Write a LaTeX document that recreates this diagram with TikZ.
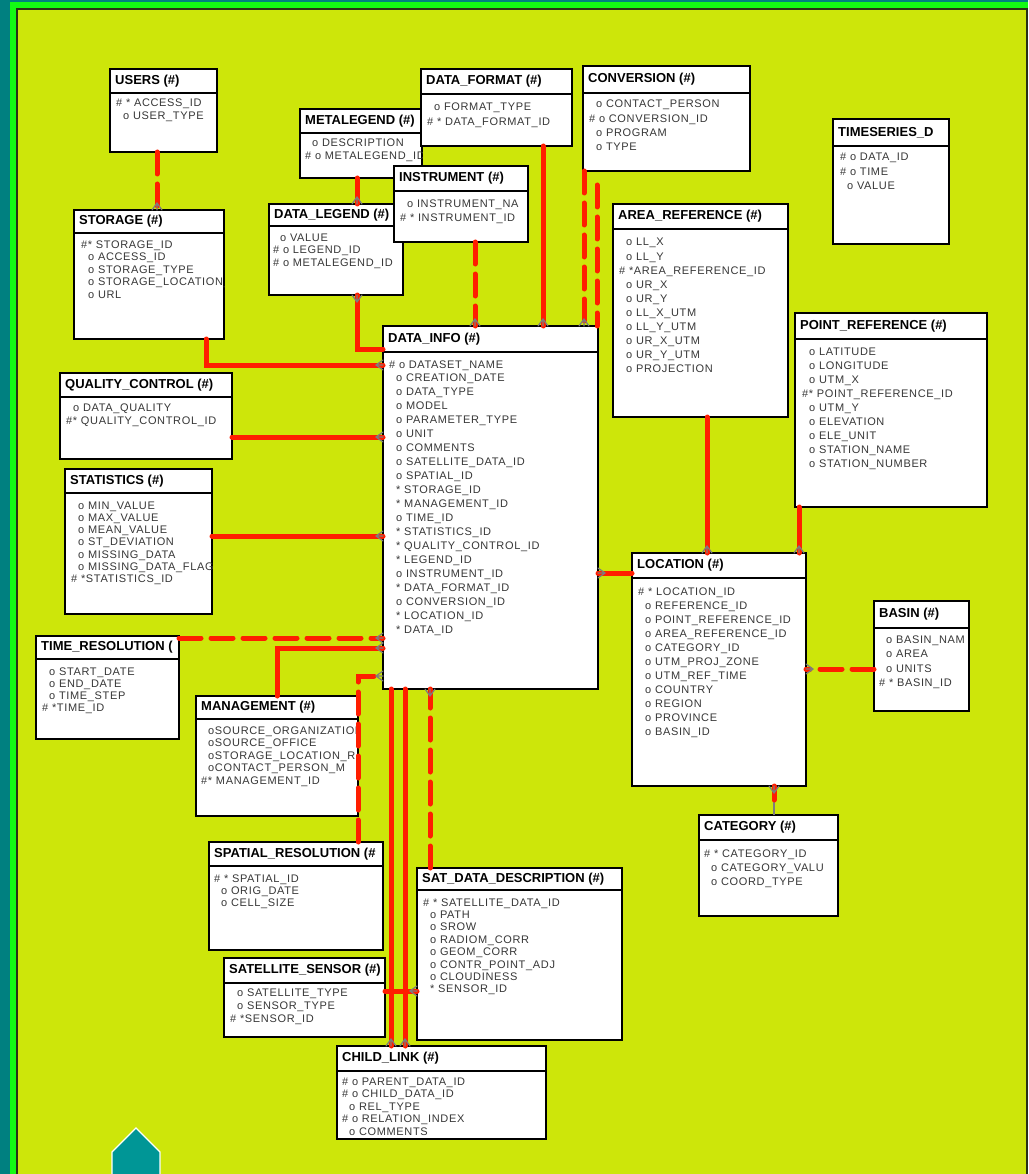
\documentclass[tikz,border=0pt]{standalone}
\usepackage{fontspec}
\setmainfont{Liberation Sans}
\newfontfamily\attrfam{Liberation Sans}[LetterSpace=6]
\usetikzlibrary{decorations.markings}
\definecolor{bgy}{RGB}{205,230,10}
\definecolor{bgr}{RGB}{20,250,20}
\definecolor{tealA}{RGB}{0,128,128}
\definecolor{tealB}{RGB}{0,150,150}
\definecolor{relred}{RGB}{255,30,0}
\definecolor{tipgray}{RGB}{125,125,125}
\definecolor{attrgray}{RGB}{55,55,55}
\definecolor{darkln}{RGB}{40,50,20}
\newcommand\attind{\hspace*{7pt}}
\tikzset{
 ebox/.style={draw=black, fill=white, line width=1.5pt, anchor=north west, inner sep=0pt, outer sep=0pt},
 hdr/.style={draw=black, line width=1.5pt},
 etitle/.style={anchor=west, inner sep=0pt, font=\fontsize{13}{16}\selectfont\bfseries, text=black},
 eattr/.style={anchor=base west, inner sep=0pt, font=\attrfam\fontsize{11}{12}\selectfont, text=attrgray},
 rel/.style={draw=relred, line width=5pt, line cap=round},
 dsh/.style={dash pattern=on 22pt off 10pt},
 cfe/.style={postaction={decorate, decoration={markings, mark=at position 1 with {\draw[tipgray, solid, line width=1.2pt, line cap=round] (0pt,5pt) -- (-7pt,0pt) -- (0pt,-5pt) (-7pt,0pt) -- (0pt,0pt);}}}},
 cfs/.style={postaction={decorate, decoration={markings, mark=at position 0 with {\draw[tipgray, solid, line width=1.2pt, line cap=round] (0pt,5pt) -- (7pt,0pt) -- (0pt,-5pt) (7pt,0pt) -- (0pt,0pt);}}}},
 thinrel/.style={draw=tipgray, line width=1.2pt},
}
% name, x, y, w, h, header height, title
\newcommand\erbox[7]{%
  \node[ebox, minimum width=#4, minimum height=#5] (#1) at (#2,#3) {};
  \begin{scope}
    \clip (#2,#3) rectangle ++(#4,#6);
    \node[etitle] (#1-t) at ({#2+5},{#3+#6/2}) {#7};
  \end{scope}
  \draw[hdr] (#2,#3+#6) -- ++(#4,0);
}
% name, x, first baseline, line step, list
\newcommand\erattr[5]{%
  \begin{scope}
    \clip (#1.north west) rectangle (#1.south east);
    \foreach \t [count=\i] in {#5} \node[eattr] (#1-\i) at ({#2},{#3+(\i-1)*#4}) {\t};
  \end{scope}
}
\begin{document}
\begin{tikzpicture}[x=1pt,y=-1pt]
\useasboundingbox (0,0) rectangle (1028,1174);
% frame
\fill[tealA] (0,0) rectangle (1028,1174);
\fill[bgr] (10,2) rectangle (1028,1174);
\fill[bgy] (17,9) rectangle (1027,1174);
\draw[darkln, line width=1.5pt] (17,1174) -- (17,9) -- (1027,9) -- (1027,1174);
\filldraw[fill=tealB, draw=white, line width=1.2pt] (112,1177) -- (112,1152) -- (136,1128) -- (160,1152) -- (160,1177);

% entities
\erbox{USR}{110}{69}{107}{83}{24}{USERS (\#)}
\erattr{USR}{116}{107}{12.5}{\# * ACCESS\_ID, \attind o USER\_TYPE}

\erbox{STO}{74}{210}{150}{129}{23}{STORAGE (\#)}
\erattr{STO}{81}{248}{12.5}{\#* STORAGE\_ID, \attind o ACCESS\_ID, \attind o STORAGE\_TYPE, \attind o STORAGE\_LOCATION\_L, \attind o URL}

\erbox{MTL}{300}{109}{122}{69}{24}{METALEGEND (\#)}
\erattr{MTL}{305}{147}{13}{\attind o DESCRIPTION, \# o METALEGEND\_ID}

\erbox{DLG}{269}{204}{134}{91}{22}{DATA\_LEGEND (\#)}
\erattr{DLG}{273}{242}{12}{\attind o VALUE, \# o LEGEND\_ID, \# o METALEGEND\_ID}

\erbox{INS}{394}{166}{134}{76}{25}{INSTRUMENT (\#)}
\erattr{INS}{400}{208}{14}{\attind o INSTRUMENT\_NA, \# * INSTRUMENT\_ID}

\erbox{DFM}{421}{69}{151}{77}{25}{DATA\_FORMAT (\#)}
\erattr{DFM}{427}{111}{15}{\attind o FORMAT\_TYPE, \# * DATA\_FORMAT\_ID}

\erbox{CNV}{583}{66}{167}{105}{27}{CONVERSION (\#)}
\erattr{CNV}{589}{108}{14.3}{\attind o CONTACT\_PERSON, \# o CONVERSION\_ID, \attind o PROGRAM, \attind o TYPE}

\erbox{TSD}{833}{119}{116}{125}{27}{TIMESERIES\_D}
\erattr{TSD}{840}{161}{14.5}{\# o DATA\_ID, \# o TIME, \attind o VALUE}

\erbox{ARF}{613}{204}{175}{213}{25}{AREA\_REFERENCE (\#)}
\erattr{ARF}{619}{246}{14}{\attind o LL\_X, \attind o LL\_Y, \# *AREA\_REFERENCE\_ID, \attind o UR\_X, \attind o UR\_Y, \attind o LL\_X\_UTM, \attind o LL\_Y\_UTM, \attind o UR\_X\_UTM, \attind o UR\_Y\_UTM, \attind o PROJECTION}

\erbox{PRF}{795}{313}{192}{194}{26}{POINT\_REFERENCE (\#)}
\erattr{PRF}{802}{355}{14}{\attind o LATITUDE, \attind o LONGITUDE, \attind o UTM\_X, \#* POINT\_REFERENCE\_ID, \attind o UTM\_Y, \attind o ELEVATION, \attind o ELE\_UNIT, \attind o STATION\_NAME, \attind o STATION\_NUMBER}

\erbox{DI}{383}{326}{215}{363}{26}{DATA\_INFO (\#)}
\erattr{DI}{389}{368}{13.95}{\# o DATASET\_NAME, \attind o CREATION\_DATE, \attind o DATA\_TYPE, \attind o MODEL, \attind o PARAMETER\_TYPE, \attind o UNIT, \attind o COMMENTS, \attind o SATELLITE\_DATA\_ID, \attind o SPATIAL\_ID, \attind * STORAGE\_ID, \attind * MANAGEMENT\_ID, \attind o TIME\_ID, \attind * STATISTICS\_ID, \attind * QUALITY\_CONTROL\_ID, \attind * LEGEND\_ID, \attind o INSTRUMENT\_ID, \attind * DATA\_FORMAT\_ID, \attind o CONVERSION\_ID, \attind * LOCATION\_ID, \attind * DATA\_ID}

\erbox{QC}{60}{373}{172}{86}{24}{QUALITY\_CONTROL (\#)}
\erattr{QC}{66}{411}{13}{\attind o DATA\_QUALITY, \#* QUALITY\_CONTROL\_ID}

\erbox{STA}{65}{469}{147}{145}{24}{STATISTICS (\#)}
\erattr{STA}{71}{509}{12.3}{\attind o MIN\_VALUE, \attind o MAX\_VALUE, \attind o MEAN\_VALUE, \attind o ST\_DEVIATION, \attind o MISSING\_DATA, \attind o MISSING\_DATA\_FLAG, \# *STATISTICS\_ID}

\erbox{TRS}{36}{636}{143}{103}{23}{TIME\_RESOLUTION (}
\erattr{TRS}{42}{675}{12}{\attind o START\_DATE, \attind o END\_DATE, \attind o TIME\_STEP, \# *TIME\_ID}

\erbox{MGT}{196}{696}{162}{120}{23}{MANAGEMENT (\#)}
\erattr{MGT}{201}{734}{12.5}{\attind oSOURCE\_ORGANIZATION, \attind oSOURCE\_OFFICE, \attind oSTORAGE\_LOCATION\_R, \attind oCONTACT\_PERSON\_M, \#* MANAGEMENT\_ID}

\erbox{LOC}{632}{553}{174}{233}{25}{LOCATION (\#)}
\erattr{LOC}{638}{595}{14}{\# * LOCATION\_ID, \attind o REFERENCE\_ID, \attind o POINT\_REFERENCE\_ID, \attind o AREA\_REFERENCE\_ID, \attind o CATEGORY\_ID, \attind o UTM\_PROJ\_ZONE, \attind o UTM\_REF\_TIME, \attind o COUNTRY, \attind o REGION, \attind o PROVINCE, \attind o BASIN\_ID}

\erbox{BAS}{874}{601}{95}{110}{27}{BASIN (\#)}
\erattr{BAS}{879}{643}{14.5}{\attind o BASIN\_NAM, \attind o AREA, \attind o UNITS, \# * BASIN\_ID}

\erbox{CAT}{699}{815}{139}{101}{25}{CATEGORY (\#)}
\erattr{CAT}{704}{857}{14}{\# * CATEGORY\_ID, \attind o CATEGORY\_VALU, \attind o COORD\_TYPE}

\erbox{SPR}{209}{842}{174}{108}{24}{SPATIAL\_RESOLUTION (\#}
\erattr{SPR}{214}{882}{12}{\# * SPATIAL\_ID, \attind o ORIG\_DATE, \attind o CELL\_SIZE}

\erbox{SSN}{224}{958}{161}{79}{25}{SATELLITE\_SENSOR (\#)}
\erattr{SSN}{230}{996}{13}{\attind o SATELLITE\_TYPE, \attind o SENSOR\_TYPE, \# *SENSOR\_ID}

\erbox{SDD}{417}{868}{205}{172}{22}{SAT\_DATA\_DESCRIPTION (\#)}
\erattr{SDD}{423}{906}{12.4}{\# * SATELLITE\_DATA\_ID, \attind o PATH, \attind o SROW, \attind o RADIOM\_CORR, \attind o GEOM\_CORR, \attind o CONTR\_POINT\_ADJ, \attind o CLOUDINESS, \attind * SENSOR\_ID}

\erbox{CHL}{337}{1046}{209}{93}{25}{CHILD\_LINK (\#)}
\erattr{CHL}{342}{1085}{12.5}{\# o PARENT\_DATA\_ID, \# o CHILD\_DATA\_ID, \attind o REL\_TYPE, \# o RELATION\_INDEX, \attind o COMMENTS}

% connectors
\draw[rel,dsh,cfe] (USR.south -| 157,0) -- (STO.north -| 157,0);
\draw[rel,cfe] (MTL.south -| 357,0) -- (DLG.north -| 357,0);
\draw[rel,cfs] (DLG.south -| 357,0) |- (DI.west |- 0,349);
\draw[rel,cfe] (STO.south -| 206,0) |- (DI.west |- 0,365);
\draw[rel,cfe] (QC.east |- 0,437) -- (DI.west |- 0,437);
\draw[rel,cfe] (STA.east |- 0,536) -- (DI.west |- 0,536);
\draw[rel,dsh,cfe] (TRS.east |- 0,638) -- (DI.west |- 0,638);
\draw[rel,cfe] (MGT.north -| 277,0) |- (DI.west |- 0,648);
\draw[rel,dsh,cfe] (SPR.north -| 358,0) |- (DI.west |- 0,676);
\draw[rel,dsh,cfe] (INS.south -| 475,0) -- (DI.north -| 475,0);
\draw[rel,cfe] (DFM.south -| 543,0) -- (DI.north -| 543,0);
\draw[rel,dsh,cfe] (CNV.south -| 584,0) -- (DI.north -| 584,0);
\coordinate (c597) at (597,185);
\draw[rel,dsh] (c597) -- (DI.north -| 597,0);
\draw[rel,cfe] (ARF.south -| 707,0) -- (LOC.north -| 707,0);
\draw[rel,cfe] (PRF.south -| 799,0) -- (LOC.north -| 799,0);
\draw[rel,cfe] (LOC.west |- 0,573) -- (DI.east |- 0,573);
\draw[rel,dsh,cfe] (BAS.west |- 0,669) -- (LOC.east |- 0,669);
\draw[thinrel] (LOC.south -| 774,0) -- (CAT.north -| 774,0);
\draw[rel,cfs] (LOC.south -| 774,0) -- ++(0,14);
\draw[rel,dsh,cfe] (SDD.north -| 430,0) -- (DI.south -| 430,0);
\draw[rel,cfe] (SSN.east |- 0,991) -- (SDD.west |- 0,991);
\draw[rel,cfe] (DI.south -| 391,0) -- (CHL.north -| 391,0);
\draw[rel,cfe] (DI.south -| 405,0) -- (CHL.north -| 405,0);
\end{tikzpicture}
\end{document}
